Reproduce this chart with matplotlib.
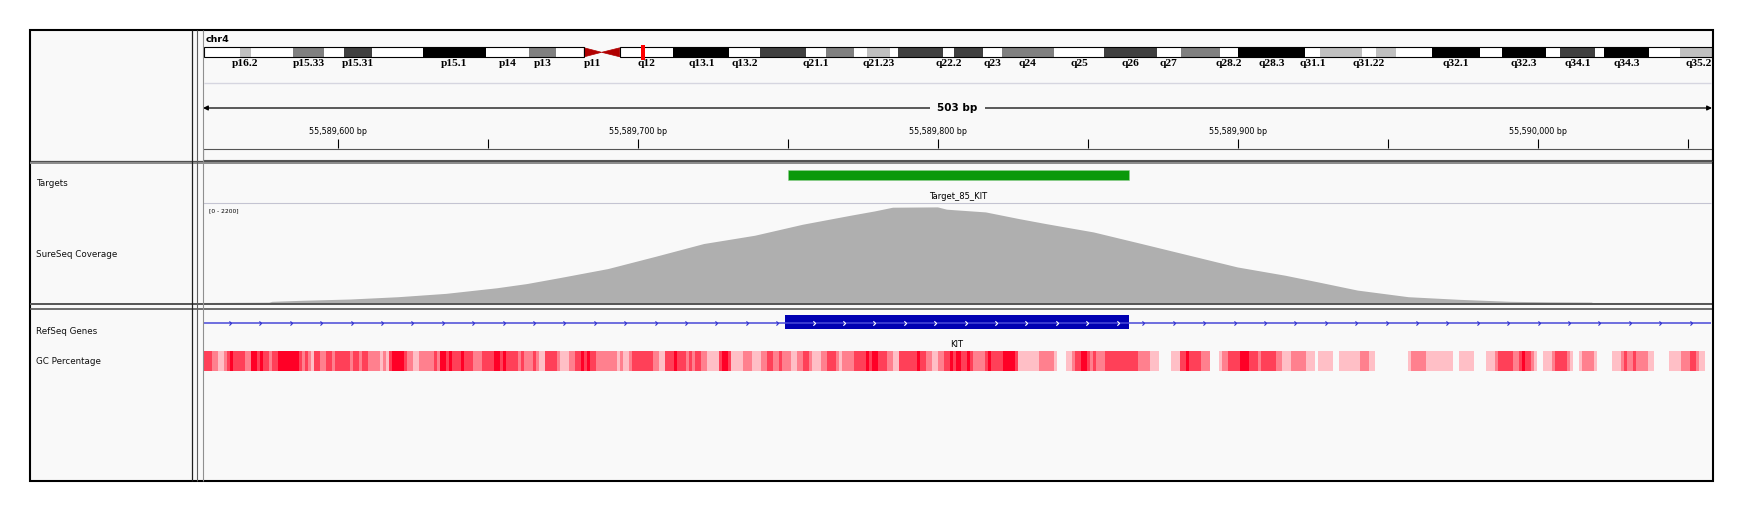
import numpy as np
import matplotlib
matplotlib.use("Agg")
import matplotlib.pyplot as plt
from matplotlib.patches import Rectangle, Polygon
from matplotlib.path import Path

W, H = 1750, 512

# ---------------- data ----------------
chrom = 'chr4'
chrom_len = 191.154276            # Mb
view_start = 55589555
view_end = 55590058               # 503 bp window

# cytobands of chr4 (Mb)
band_names = ['p16.3', 'p16.2', 'p16.1', 'p15.33', 'p15.32', 'p15.31', 'p15.2', 'p15.1',
              'p14', 'p13', 'p12', 'p11', 'q11', 'q12', 'q13.1', 'q13.2', 'q13.3',
              'q21.1', 'q21.21', 'q21.22', 'q21.23', 'q21.3', 'q22.1', 'q22.2', 'q22.3',
              'q23', 'q24', 'q25', 'q26', 'q27', 'q28.1', 'q28.2', 'q28.3', 'q31.1',
              'q31.21', 'q31.22', 'q31.23', 'q31.3', 'q32.1', 'q32.2', 'q32.3', 'q33',
              'q34.1', 'q34.2', 'q34.3', 'q35.1', 'q35.2']
band_starts = [0.0, 4.5, 6.0, 11.3, 15.2, 17.8, 21.3, 27.7, 35.8, 41.2, 44.6, 48.2, 50.4,
               52.7, 59.5, 66.6, 70.5, 76.3, 78.9, 82.4, 84.1, 86.9, 88.0, 93.7, 95.1,
               98.8, 101.1, 107.7, 114.1, 120.8, 123.8, 128.8, 131.1, 139.5, 141.5,
               146.8, 148.5, 151.1, 155.6, 161.8, 164.5, 170.1, 171.9, 176.3, 177.5,
               183.2, 187.1]
band_stains = ['gneg', 'gpos25', 'gneg', 'gpos50', 'gneg', 'gpos75', 'gneg', 'gpos100',
               'gneg', 'gpos50', 'gneg', 'acen', 'acen', 'gneg', 'gpos100', 'gneg', 'gpos75',
               'gneg', 'gpos50', 'gneg', 'gpos25', 'gneg', 'gpos75', 'gneg', 'gpos75',
               'gneg', 'gpos50', 'gneg', 'gpos75', 'gneg', 'gpos50', 'gneg', 'gpos100', 'gneg',
               'gpos25', 'gneg', 'gpos25', 'gneg', 'gpos100', 'gneg', 'gpos100', 'gneg',
               'gpos75', 'gneg', 'gpos100', 'gneg', 'gpos25']
shown_labels = ['p16.2', 'p15.33', 'p15.31', 'p15.1', 'p14', 'p13', 'p11', 'q12', 'q13.1',
                'q13.2', 'q21.1', 'q21.23', 'q22.2', 'q23', 'q24', 'q25', 'q26', 'q27',
                'q28.2', 'q28.3', 'q31.1', 'q31.22', 'q32.1', 'q32.3', 'q34.1', 'q34.3', 'q35.2']

# target and gene
target_name = 'Target_85_KIT'
target_start, target_end = 55589750, 55589864
gene_name = 'KIT'
exon_start, exon_end = 55589749, 55589864

# coverage (offset from view start in bp, depth)
cov_off = [0, 22, 23, 33, 49, 65, 81, 98, 108, 119, 135, 151, 167, 184, 200, 216, 224,
           230, 245, 248, 261, 272, 281, 297, 313, 329, 345, 361, 372, 385, 402, 419,
           436, 450, 463, 464]
cov_val = [10, 18, 37, 60, 88, 139, 213, 337, 430, 562, 761, 1034, 1315, 1498, 1742,
           1941, 2036, 2118, 2125, 2074, 2014, 1868, 1757, 1571, 1315, 1056, 797, 613,
           465, 286, 139, 81, 37, 25, 20, 0]
cov_max = 2200

# GC percentage, run-length per base: D dark, M medium, L light, P pale, W none
gc_runs = ("M3 L2 P2 L1 M1 D1 M4 L2 D2 M1 D1 M2 L1 M2 D7 M1 L1 M1 L1 P1 M2 L2 M2 L1 M5 "
           "L1 M2 L1 M2 L4 P1 L1 P1 M1 D4 M1 L2 P2 L5 M1 L1 D2 M1 D1 M3 D1 M3 L3 M4 D2 "
           "M1 D1 M4 L1 M1 L3 M1 L1 P2 M4 L1 P3 L2 M2 D1 M1 D1 M2 L7 P1 L1 P2 L1 M7 L2 "
           "P2 M3 D1 M3 L1 M1 L1 M2 "
           "L2 P4 M1 D2 M1 P4 L3 P3 L2 M2 L2 M1 L3 P2 L2 M2 L1 P3 L2 M3 L1 P1 L4 M4 D1 "
           "M1 D2 M3 L2 P2 M6 D1 M2 L2 P2 L2 M2 D1 M1 D2 M2 D1 M1 L4 M1 D1 M4 D4 M1 P7 "
           "L5 P1 W3 P2 L1 M2 D2 M1 L1 M1 L3 M11 L4 P3 W4 P3 M2 D1 M4 L3 "
           "W3 P1 L2 M4 D3 M3 L1 M5 L2 P3 L5 P3 W1 P5 W2 P7 L3 P2 W11 P1 L5 P9 W2 P5 "
           "W4 P3 L1 M5 L2 M1 D1 M2 L1 P1 W2 P3 L1 M4 L1 P1 W2 P1 L4 P1 W5 P3 L1 M1 "
           "L2 M1 L4 P2 W5 P4 L3 M2 L1 P2 W2")

track_names = ['Targets', 'SureSeq Coverage', 'RefSeq Genes', 'GC Percentage']

# ---------------- style ----------------
stain_color = {'gneg': 'white', 'gpos25': '#c0c0c0', 'gpos50': '#808080',
               'gpos75': '#404040', 'gpos100': 'black'}
gc_color = {'D': '#ff0026', 'M': '#ff4058', 'L': '#ff808e', 'P': '#ffbfc6'}
BG = '#f9f9f9'
DATA_X0, DATA_X1 = 203, 1711

fig = plt.figure(figsize=(W / 100, H / 100), dpi=100)
fig.patch.set_facecolor('white')


def px_axes(x0, y0, x1, y1, z=5):
    ax = fig.add_axes([x0 / W, 1 - y1 / H, (x1 - x0) / W, (y1 - y0) / H], zorder=z)
    ax.set_axis_off()
    ax.patch.set_alpha(0)
    return ax


# background + labels in pixel space
bg = fig.add_axes([0, 0, 1, 1], zorder=0)
bg.set_xlim(0, W)
bg.set_ylim(H, 0)
bg.set_axis_off()
bg.add_patch(Rectangle((30, 30), 1683, 451, facecolor=BG, edgecolor='none'))
bg.text(206, 39, chrom, fontsize=6.8, fontweight='bold', va='center', ha='left')
for name, y in zip(track_names, [183.7, 254.7, 331, 361.7]):
    bg.text(36, y, name, fontsize=6.3, va='center', ha='left', color='#111111')

# ---------------- ideogram ----------------
ideo = px_axes(204, 40, 1712, 70)
ideo.set_xlim(0, chrom_len)
ideo.set_ylim(70, 40)
band_ends = band_starts[1:] + [chrom_len]
for name, s, e, st in zip(band_names, band_starts, band_ends, band_stains):
    if st == 'acen':
        if name.startswith('p'):
            tri = [(s, 47.8), (s, 56.8), (e, 52.3)]
        else:
            tri = [(e, 47.8), (e, 56.8), (s, 52.3)]
        ideo.add_patch(Polygon(tri, closed=True, facecolor='#b00000', edgecolor='#b00000', lw=0.5))
    else:
        ideo.add_patch(Rectangle((s, 47.3), e - s, 10, facecolor=stain_color[st], edgecolor='none'))
    if name in shown_labels:
        xc = (s + e) / 2
        ha = 'center'
        if e >= chrom_len:
            xc, ha = chrom_len, 'right'
        ideo.text(xc, 63.0, name, fontsize=8.2, fontweight='bold', family='Liberation Serif',
                  ha=ha, va='center')
p_end = band_starts[band_names.index('p11')]
q_start = band_starts[band_names.index('q12')]
ideo.add_patch(Rectangle((0, 47.3), p_end, 10, fill=False, edgecolor='black', lw=0.8))
ideo.add_patch(Rectangle((q_start, 47.3), chrom_len - q_start, 10, fill=False,
                         edgecolor='black', lw=0.8))
ideo.add_patch(Rectangle((view_start / 1e6 - 0.15, 45), 0.45, 15, facecolor='red',
                         edgecolor='none'))

# ---------------- ruler ----------------
rul = px_axes(DATA_X0, 84, DATA_X1 + 1, 161)
rul.set_xlim(view_start, view_end)
rul.set_ylim(161, 84)
rul.annotate('', xy=(view_end, 108), xytext=(view_start, 108),
             arrowprops=dict(arrowstyle='<|-|>', lw=0.9, color='black', mutation_scale=7,
                             shrinkA=0, shrinkB=0))
rul.text((view_start + view_end) / 2, 108, f'{view_end - view_start} bp', fontsize=7.5,
         fontweight='bold', ha='center', va='center',
         bbox=dict(facecolor=BG, edgecolor='none', pad=5))
ticks = np.arange(np.ceil(view_start / 50) * 50, view_end, 50)
rul.vlines(ticks, 139, 148, color='black', lw=0.8)
for t in ticks:
    if t % 100 == 0:
        rul.text(t, 131, f'{int(t):,} bp', fontsize=5.8, ha='center', va='center')
rul.add_patch(Rectangle((view_start, 149.3), view_end - view_start, 10.5, fill=False,
                        edgecolor='#555555', lw=0.8))

# ---------------- targets ----------------
tgt = px_axes(DATA_X0, 163, DATA_X1, 203)
tgt.set_xlim(view_start, view_end)
tgt.set_ylim(203, 163)
tgt.add_patch(Rectangle((target_start, 170), target_end - target_start, 10,
                        facecolor='#0a990a', edgecolor='#8fcf8f', lw=0.4))
tgt.text((target_start + target_end) / 2, 196.7, target_name, fontsize=6, ha='center',
         va='center')

# ---------------- coverage ----------------
cov = px_axes(DATA_X0, 203.5, DATA_X1, 303)
cov.set_xlim(view_start, view_end)
cov.set_ylim(0, cov_max)
cov.fill_between(view_start + np.array(cov_off), cov_val, 0, color='#afafaf', lw=0)
cov.text(0.004, 0.925, f'[0 - {cov_max}]', transform=cov.transAxes, fontsize=4.3,
         ha='left', va='center')

# ---------------- genes ----------------
gen = px_axes(DATA_X0, 310, DATA_X1, 350)
gen.set_xlim(view_start, view_end)
gen.set_ylim(350, 310)
gen.hlines(322.7, view_start, view_end, color='#4848d8', lw=1.1)
gen.add_patch(Rectangle((exon_start, 315.3), exon_end - exon_start, 14,
                        facecolor='#0000b2', edgecolor='none'))
chev = Path([(-0.5, 1), (0.5, 0), (-0.5, -1)], [Path.MOVETO, Path.LINETO, Path.LINETO])
step = 10.14
left = np.arange(view_start + 9, exon_start - 2, step)
right = np.arange(exon_end + 4.7, view_end - 2, step)
inside = np.arange(exon_start + 9.7, exon_end - 2, step)
gen.plot(np.r_[left, right], np.full(len(left) + len(right), 322.7), ls='none',
         marker=chev, ms=3.0, mfc='none', mec='#3030d0', mew=0.8)
gen.plot(inside, np.full(len(inside), 322.7), ls='none', marker=chev, ms=3.2,
         mfc='none', mec='white', mew=0.8)
gen.text((exon_start + exon_end) / 2, 344.3, gene_name, fontsize=6, ha='center', va='center')

# ---------------- GC percentage ----------------
gc_levels = ''.join(tok[0] * int(tok[1:]) for tok in gc_runs.split())
gc_pos = view_start + np.arange(len(gc_levels))
gca = px_axes(DATA_X0, 351, DATA_X1, 371)
gca.set_xlim(view_start, view_end)
gca.set_ylim(0, 1)
mask = np.array([c != 'W' for c in gc_levels])
gca.bar(gc_pos[mask], 1, width=1, align='edge',
        color=[gc_color[c] for c in gc_levels if c != 'W'], linewidth=0)

# ---------------- panel borders ----------------
top = fig.add_axes([0, 0, 1, 1], zorder=30)
top.set_xlim(0, W)
top.set_ylim(H, 0)
top.set_axis_off()
top.patch.set_alpha(0)
top.hlines(82.8, 204, 1711, color='#d6d6e0', lw=1)
top.hlines(203.4, DATA_X0, DATA_X1, color='#c4c4d2', lw=0.8)
top.hlines(302.6, DATA_X0, DATA_X1, color='#c8c8c8', lw=0.8)
top.hlines(160.6, 30, 1712, color='#505050', lw=0.9)
top.hlines(162.6, 30, 1712, color='#8a8a8a', lw=1.4)
top.hlines(304.4, 30, 1712, color='#555555', lw=1.4)
top.hlines(309.2, 30, 1712, color='#555555', lw=1.2)
top.vlines(191.7, 30, 481, color='#202020', lw=0.9)
top.vlines(197.3, 30, 481, color='#606060', lw=0.8)
top.vlines(203.0, 30, 481, color='#909090', lw=0.8)
top.add_patch(Rectangle((30, 30), 1683, 451, fill=False, edgecolor='black', lw=1.5))

fig.savefig('out.png', dpi=100, facecolor='white')
